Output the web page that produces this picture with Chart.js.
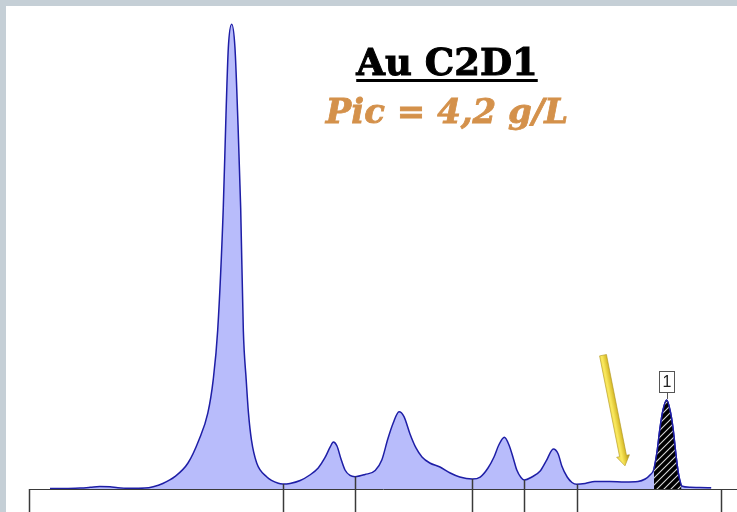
<!DOCTYPE html>
<html>
<head>
<meta charset="utf-8">
<script src="https://cdn.jsdelivr.net/npm/chart.js@4.4.0/dist/chart.umd.min.js"></script>
<style>
  html, body { margin: 0; padding: 0; width: 737px; height: 512px; overflow: hidden; background: #c5cfd6; }
  #wrap { position: absolute; left: 6px; top: 6px; width: 731px; height: 506px; background: #fff; }
  #wrap canvas { display: block; }
  .title { position: absolute; left: 241px; width: 400px; text-align: center; white-space: nowrap; }
  #t1 { top: 38px; font: bold 37px "DejaVu Serif", serif; line-height: 37px; color: #000;
        -webkit-text-stroke: 1px #000;
        text-decoration: underline; text-decoration-thickness: 3px; text-underline-offset: 4px; }
  #t2 { top: 88px; font: italic bold 34px "DejaVu Serif", serif; line-height: 34px; color: #d4914b;
        -webkit-text-stroke: 0.8px #d4914b; }
</style>
</head>
<body>
<div id="wrap">
  <canvas id="elpho" width="731" height="506"></canvas>
  <div class="title" id="t1">Au C2D1</div>
  <div class="title" id="t2">Pic = 4,2 g/L</div>
</div>
<script>
// migration position (arbitrary units) and signal (% of scale)
const posX = [
  3.5, 6.0, 8.5, 10.2, 11.8, 13.5, 14.8, 16.8, 19.3, 20.7, 22.3, 24.3, 26.5, 28.3, 29.8, 30.7,
  31.45, 32.38, 32.83, 33.22, 33.78, 34.33, 34.78, 35.28, 35.72, 36.2, 36.58, 37.08, 37.95, 39.6,
  41.55, 42.28, 43.5, 45.2, 46.8, 48.2, 49.3, 50.2, 50.72, 51.33, 52.0, 52.67, 53.5, 54.33,
  56.0, 57.7, 58.8, 59.8, 60.7, 61.67, 62.5, 63.5, 64.5, 65.5, 66.8, 68.5, 70.2, 71.8, 73.88,
  75.2, 76.5, 77.5, 78.3, 79.22, 80.0, 80.7, 81.3, 82.0, 82.55, 83.8, 85.2, 86.2, 87.38, 88.2,
  88.8, 89.7, 90.5, 91.28, 92.7, 94.3, 96.8, 99.3, 101.5, 102.7, 103.5, 104.17, 104.67, 105.17,
  105.67, 106.28, 106.83, 107.33, 107.83, 108.25, 108.75, 110.2, 111.8, 113.7
];
const signal = [
  0.1, 0.1, 0.2, 0.35, 0.52, 0.46, 0.25, 0.14, 0.2, 0.48, 1.14, 2.55, 5.38, 10.1, 15.7, 22.6,
  32.9, 58.2, 77.4, 91.3, 96.2, 91.3, 77.4, 58.2, 32.9, 22.6, 15.7, 10.1, 5.38, 2.55,
  1.18, 1.04, 1.16, 1.76, 2.9, 4.35, 6.42, 8.7, 9.73, 8.9, 6.21, 3.93, 2.8, 2.55,
  3.0, 3.83, 6.0, 10.35, 13.66, 16.0, 15.0, 11.4, 8.5, 6.63, 5.38, 4.55, 3.31, 2.48, 2.07,
  2.48, 4.35, 6.63, 9.11, 10.7, 9.11, 6.42, 3.93, 2.38, 1.86, 2.48, 3.73, 5.8, 8.28, 7.25,
  4.76, 2.48, 1.35, 0.97, 1.14, 1.55, 1.55, 1.45, 1.55, 2.07, 2.9, 4.14, 7.66, 12.63,
  16.36, 18.43, 16.36, 12.63, 7.04, 3.11, 0.62, 0.37, 0.31, 0.25
];
// fraction limits
const separators = [0, 42.28, 54.33, 73.88, 82.55, 91.28, 115.33];
// quantified peak (hatched)
const hatchFrom = 104.17;
const hatchTo = 108.75;
const peakLabel = "1";
// arrow annotation: tail and tip (x, signal)
const arrowTail = [95.67, 27.7];
const arrowTip = [99.33, 4.8];

const curve = posX.map((x, i) => ({ x: x, y: signal[i] }));
const hatchPts = curve.filter(p => p.x >= hatchFrom && p.x <= hatchTo);

function valueAt(x) {
  if (x < posX[0] || x > posX[posX.length - 1]) return 0;
  for (let i = 1; i < posX.length; i++) {
    if (x <= posX[i]) {
      const t = (x - posX[i - 1]) / (posX[i] - posX[i - 1]);
      return signal[i - 1] + t * (signal[i] - signal[i - 1]);
    }
  }
  return 0;
}

function hatchPattern() {
  const c = document.createElement("canvas");
  c.width = 7; c.height = 7;
  const g = c.getContext("2d");
  g.fillStyle = "#000";
  g.fillRect(0, 0, 7, 7);
  g.strokeStyle = "#d8d8d8";
  g.lineWidth = 1.1;
  g.beginPath();
  g.moveTo(0, 7); g.lineTo(7, 0);
  g.moveTo(-1, 1); g.lineTo(1, -1);
  g.moveTo(6, 8); g.lineTo(8, 6);
  g.stroke();
  return g.createPattern(c, "repeat");
}

// vertical fraction lines, from the curve down to the bottom
const separatorPlugin = {
  id: "separators",
  afterDatasetsDraw(chart) {
    const { ctx, scales } = chart;
    ctx.save();
    ctx.strokeStyle = "#3a3a3a";
    ctx.lineWidth = 1.5;
    separators.forEach(s => {
      const px = Math.round(scales.x.getPixelForValue(s)) + 0.5;
      const py = scales.y.getPixelForValue(valueAt(s));
      ctx.beginPath();
      ctx.moveTo(px, py);
      ctx.lineTo(px, chart.height);
      ctx.stroke();
    });
    ctx.restore();
  }
};

// numbered box above the quantified peak
const peakLabelPlugin = {
  id: "peakLabel",
  afterDatasetsDraw(chart) {
    const { ctx, scales } = chart;
    let top = hatchPts[0];
    hatchPts.forEach(p => { if (p.y > top.y) top = p; });
    const px = scales.x.getPixelForValue(top.x);
    const py = scales.y.getPixelForValue(top.y);
    const w = 15, h = 21;
    const bx = Math.round(px - w / 2) + 0.5;
    const by = Math.round(py - 8 - h) + 0.5;
    ctx.save();
    ctx.strokeStyle = "#555";
    ctx.lineWidth = 1;
    ctx.beginPath();
    ctx.moveTo(Math.round(px) + 0.5, by + h);
    ctx.lineTo(Math.round(px) + 0.5, py - 1);
    ctx.stroke();
    ctx.fillStyle = "#fff";
    ctx.fillRect(bx, by, w, h);
    ctx.strokeRect(bx, by, w, h);
    ctx.fillStyle = "#222";
    ctx.font = "16px 'Liberation Sans', Arial, sans-serif";
    ctx.textAlign = "center";
    ctx.textBaseline = "middle";
    ctx.fillText(peakLabel, bx + w / 2, by + h / 2 + 1);
    ctx.restore();
  }
};

// yellow arrow pointing to the zone
const arrowPlugin = {
  id: "arrow",
  afterDatasetsDraw(chart) {
    const { ctx, scales } = chart;
    const x1 = scales.x.getPixelForValue(arrowTail[0]);
    const y1 = scales.y.getPixelForValue(arrowTail[1]);
    const x2 = scales.x.getPixelForValue(arrowTip[0]);
    const y2 = scales.y.getPixelForValue(arrowTip[1]);
    const len = Math.hypot(x2 - x1, y2 - y1);
    const head = 10;
    ctx.save();
    ctx.translate(x1, y1);
    ctx.rotate(Math.atan2(y2 - y1, x2 - x1));
    // after rotation, +y points to the lower-left side of the arrow
    const grad = ctx.createLinearGradient(0, -7, 0, 7);
    grad.addColorStop(0, "#8f7c1e");
    grad.addColorStop(0.3, "#d9bd2c");
    grad.addColorStop(0.6, "#f9e85e");
    grad.addColorStop(1, "#efd848");
    ctx.fillStyle = grad;
    ctx.strokeStyle = "#b59a22";
    ctx.lineWidth = 0.6;
    ctx.beginPath();
    ctx.moveTo(0, -3.5);
    ctx.lineTo(len - head, -3.5);
    ctx.lineTo(len - head, -6.5);
    ctx.lineTo(len, 0);
    ctx.lineTo(len - head, 6.5);
    ctx.lineTo(len - head, 3.5);
    ctx.lineTo(0, 3.5);
    ctx.closePath();
    ctx.fill();
    ctx.stroke();
    ctx.restore();
  }
};

new Chart(document.getElementById("elpho").getContext("2d"), {
  type: "line",
  data: {
    datasets: [
      {
        data: hatchPts,
        borderColor: "#1e1ea6",
        borderWidth: 1.5,
        backgroundColor: hatchPattern(),
        fill: "origin",
        pointRadius: 0,
        cubicInterpolationMode: "monotone",
        order: 0
      },
      {
        data: curve,
        borderColor: "#1e1ea6",
        borderWidth: 1.5,
        backgroundColor: "#b8bcfb",
        fill: "origin",
        pointRadius: 0,
        cubicInterpolationMode: "monotone",
        order: 1
      }
    ]
  },
  options: {
    responsive: false,
    animation: false,
    layout: { padding: { left: 23, right: 0, top: 0, bottom: 23 } },
    plugins: { legend: { display: false }, tooltip: { enabled: false } },
    scales: {
      x: {
        type: "linear", min: 0, max: 118,
        grid: { display: false, drawTicks: false },
        ticks: { display: false },
        border: { display: true, color: "#3a3a3a", width: 1 }
      },
      y: {
        display: false, min: 0, max: 100
      }
    }
  },
  plugins: [separatorPlugin, peakLabelPlugin, arrowPlugin]
});
</script>
</body>
</html>
